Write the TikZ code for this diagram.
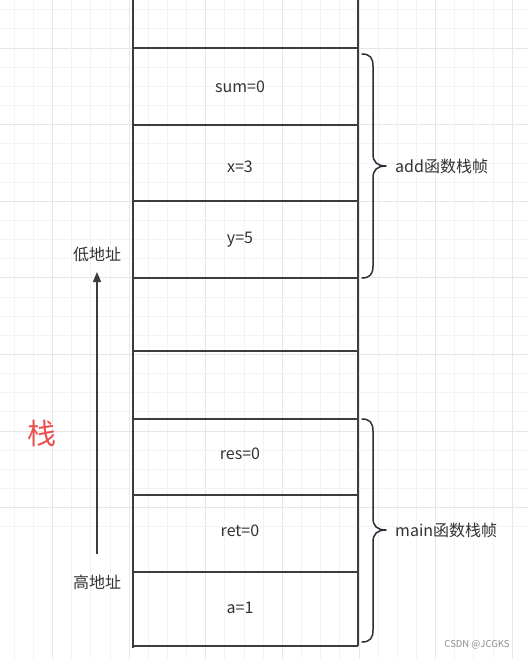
\documentclass[tikz,border=0pt]{standalone}
\usepackage{fontspec}
\setmainfont{Noto Sans CJK SC}
\usetikzlibrary{arrows.meta}
\definecolor{gridminor}{RGB}{243,243,243}
\definecolor{gridmajor}{RGB}{230,230,230}
\definecolor{stackline}{RGB}{60,60,60}
\definecolor{bracecol}{RGB}{40,45,55}
\definecolor{txt}{RGB}{50,50,50}
\definecolor{redtxt}{RGB}{234,80,80}
\tikzset{
  cell/.style={text=txt, font=\fontsize{16}{19}\selectfont, inner sep=0pt},
  lbl/.style={text=txt, font=\fontsize{16}{19}\selectfont, inner sep=0pt, anchor=west},
  addr/.style={text=txt, font=\fontsize{16}{19}\selectfont, inner sep=0pt},
  sline/.style={stackline, line width=1.4pt},
  bracestyle/.style={bracecol, line width=1.5pt, line cap=round, line join=round},
  arr/.style={stackline, line width=1.4pt, -{Triangle[length=10pt,width=8pt]}},
}
\begin{document}
\begin{tikzpicture}[x=1pt,y=-1pt]
\useasboundingbox (0,0) rectangle (528,659);
\fill[white] (0,0) rectangle (528,659);
% grid
\foreach \i in {-2,...,25} {
  \pgfmathsetmacro{\xx}{52.5+\i*19.15}
  \pgfmathsetmacro{\yy}{48+\i*19.15}
  \pgfmathtruncatemacro{\m}{mod(\i+40,4)}
  \ifnum\m=0
    \draw[gridmajor, line width=0.8pt] (\xx,0) -- (\xx,659);
    \draw[gridmajor, line width=0.8pt] (0,\yy) -- (528,\yy);
  \else
    \draw[gridminor, line width=0.8pt] (\xx,0) -- (\xx,659);
    \draw[gridminor, line width=0.8pt] (0,\yy) -- (528,\yy);
  \fi
}
% stack outline
\coordinate (TL) at (133,0);
\coordinate (BL) at (133,648);
\coordinate (TR) at (358,0);
\coordinate (BR) at (358,646);
\draw[sline] (TL) -- (BL);
\draw[sline] (TR) -- (BR);
\foreach \y [count=\k] in {48,125,201,278,351,419,495,572,646} {
  \coordinate (hl\k) at (133,\y);
  \coordinate (hr\k) at (358,\y);
  \draw[sline] (hl\k) -- (hr\k);
}
% cell texts
\node[cell] (sum) at (240,87) {sum=0};
\node[cell] (x) at (240,167) {x=3};
\node[cell] (y) at (240,240) {y=5};
\node[cell] (res) at (240,454) {res=0};
\node[cell] (ret) at (240,531) {ret=0};
\node[cell] (a) at (240,608) {a=1};
% braces
\draw[bracestyle] (362,54) .. controls (370,54) and (373,58) .. (373,66) -- (373,154)
  .. controls (373,162) and (377,166) .. (386,166)
  .. controls (377,166) and (373,170) .. (373,178) -- (373,266)
  .. controls (373,274) and (370,278) .. (362,278);
\coordinate (addtip) at (386,166);
\node[lbl] (addlbl) at (395,166) {add函数栈帧};
\draw[bracestyle] (362,419) .. controls (370,419) and (373,423) .. (373,431) -- (373,518)
  .. controls (373,526) and (377,530) .. (386,530)
  .. controls (377,530) and (373,534) .. (373,542) -- (373,630)
  .. controls (373,638) and (370,642) .. (362,642);
\coordinate (maintip) at (386,530);
\node[lbl] (mainlbl) at (395,530) {main函数栈帧};
% address arrow
\node[addr] (low) at (97,254) {低地址};
\node[addr] (high) at (97,582) {高地址};
\coordinate (arrS) at (97,554);
\coordinate (arrE) at (97,272);
\draw[arr] (arrS) -- (arrE);
% stack label
\node[text=redtxt, font=\fontsize{29}{32}\selectfont, inner sep=0pt] (zhan) at (42,433) {栈};
% watermark
\node[text=black!45, font=\fontsize{9.5}{11}\selectfont, inner sep=0pt] (wm) at (477,645) {CSDN @JCGKS};
\end{tikzpicture}
\end{document}
